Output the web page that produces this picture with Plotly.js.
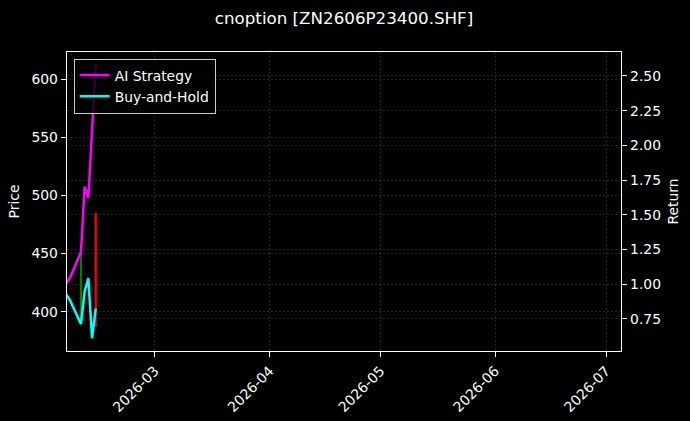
<!DOCTYPE html>
<html>
<head>
<meta charset="utf-8">
<script src="https://cdn.plot.ly/plotly-3.0.1.min.js"></script>
<style>
  html, body { margin: 0; padding: 0; background: #000; }
  #chart { width: 690px; height: 421px; }
</style>
</head>
<body>
<div id="chart"></div>
<script>
// trading days shown on the chart
var dates = ["2026-02-05", "2026-02-06", "2026-02-09", "2026-02-10", "2026-02-11", "2026-02-12", "2026-02-13"];

// candle bodies (price axis), null where no body is visible
var opens  = [null, null, 390.3, null, null, null, 485.4];
var closes = [null, null, 451.5, null, null, null, 387.0];

// cumulative returns (right axis)
var aiStrategy = [1.003, 1.043, 1.230, 1.702, 1.622, 2.109, 2.591];
var buyHold    = [0.924, 0.885, 0.711, 0.945, 1.043, 0.609, 0.825];

var monthTicks  = ["2026-03-01", "2026-04-01", "2026-05-01", "2026-06-01", "2026-07-01"];
var monthLabels = ["2026-03", "2026-04", "2026-05", "2026-06", "2026-07"];
var priceTicks  = [400, 450, 500, 550, 600];
var returnTicks = [0.75, 1.00, 1.25, 1.50, 1.75, 2.00, 2.25, 2.50];

var fontFamily = "DejaVu Sans, sans-serif";
var gridColor = "rgba(130,130,130,0.4)";
var gridDash = "2px,2px";

var bodyBase = [], bodyHeight = [], bodyColor = [];
for (var i = 0; i < dates.length; i++) {
    if (opens[i] === null) {
        bodyBase.push(null);
        bodyHeight.push(null);
        bodyColor.push("#000");
    } else {
        bodyBase.push(Math.min(opens[i], closes[i]));
        bodyHeight.push(Math.abs(closes[i] - opens[i]));
        bodyColor.push(closes[i] >= opens[i] ? "#008000" : "#ff0000");
    }
}

var candles = {
    x: dates,
    y: bodyHeight,
    base: bodyBase,
    type: "bar",
    width: 0.6 * 86400000,
    marker: { color: bodyColor, line: { width: 0 } },
    yaxis: "y",
    showlegend: false,
    hoverinfo: "skip"
};

var aiLine = {
    x: dates,
    y: aiStrategy,
    mode: "lines",
    name: "AI Strategy",
    line: { color: "#ff00ff", width: 2.5 },
    yaxis: "y2"
};

var bhLine = {
    x: dates,
    y: buyHold,
    mode: "lines",
    name: "Buy-and-Hold",
    line: { color: "#00ffff", width: 2.5 },
    yaxis: "y2"
};

var layout = {
    width: 690,
    height: 421,
    paper_bgcolor: "#000",
    plot_bgcolor: "#000",
    font: { family: fontFamily, size: 13.9, color: "#fff" },
    margin: { l: 67, r: 69, t: 52, b: 70 },
    title: {
        text: "cnoption [ZN2606P23400.SHF]",
        font: { family: fontFamily, size: 16.7, color: "#fff" },
        xref: "paper",
        x: 0.5,
        yref: "container",
        y: 0.957,
        yanchor: "middle"
    },
    barmode: "overlay",
    showlegend: true,
    legend: {
        x: 0.012,
        y: 0.978,
        xanchor: "left",
        yanchor: "top",
        bgcolor: "rgba(0,0,0,0.8)",
        bordercolor: "#cccccc",
        borderwidth: 1,
        itemwidth: 30,
        font: { family: fontFamily, size: 13.9, color: "#fff" },
        tracegroupgap: 2
    },
    xaxis: {
        type: "date",
        range: ["2026-02-05 05:30", "2026-07-05 00:45"],
        tickmode: "array",
        tickvals: monthTicks,
        ticktext: monthLabels,
        tickangle: -45,
        ticks: "outside",
        ticklen: 5,
        tickcolor: "#fff",
        showline: true,
        linecolor: "#fff",
        linewidth: 1.3,
        mirror: true,
        showgrid: true,
        gridcolor: gridColor,
        griddash: gridDash,
        gridwidth: 0.7,
        zeroline: false
    },
    yaxis: {
        range: [366.2, 623.5],
        tickmode: "array",
        tickvals: priceTicks,
        ticks: "outside",
        ticklen: 5,
        tickcolor: "#fff",
        showline: true,
        linecolor: "#fff",
        linewidth: 1.3,
        mirror: true,
        showgrid: true,
        gridcolor: gridColor,
        griddash: gridDash,
        gridwidth: 0.7,
        zeroline: false,
        title: { text: "Price", standoff: 8, font: { family: fontFamily, size: 13.9, color: "#fff" } }
    },
    yaxis2: {
        overlaying: "y",
        side: "right",
        range: [0.517, 2.673],
        tickmode: "array",
        tickvals: returnTicks,
        tickformat: ".2f",
        ticks: "outside",
        ticklen: 5,
        tickcolor: "#fff",
        showline: true,
        linecolor: "#fff",
        linewidth: 1.3,
        showgrid: true,
        gridcolor: gridColor,
        griddash: gridDash,
        gridwidth: 0.7,
        zeroline: false,
        title: { text: "Return", standoff: 8, font: { family: fontFamily, size: 13.9, color: "#fff" } }
    }
};

Plotly.newPlot("chart", [candles, aiLine, bhLine], layout, { displayModeBar: false, staticPlot: true });
</script>
</body>
</html>
